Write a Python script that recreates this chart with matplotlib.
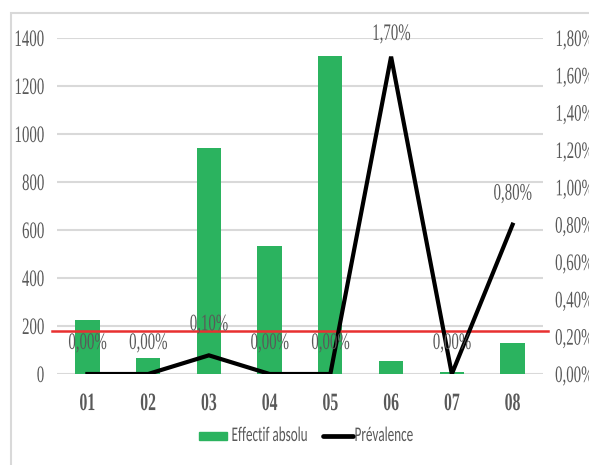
import matplotlib
matplotlib.use("Agg")
import matplotlib.pyplot as plt
from matplotlib.patches import Rectangle
from matplotlib.lines import Line2D
from matplotlib.patheffects import AbstractPathEffect
from matplotlib.transforms import Affine2D
from matplotlib.ticker import FuncFormatter

# categories and series
regions = ["01", "02", "03", "04", "05", "06", "07", "08"]
effectif = [225, 67, 942, 535, 1324, 54, 10, 128]
prevalence = [0.00, 0.00, 0.10, 0.00, 0.00, 1.70, 0.00, 0.80]
seuil = 180

green = "#2bb35f"
grey_txt = "#595959"
grid_col = "#d9d9d9"
serif = ["Liberation Serif", "DejaVu Serif"]
sans = ["Carlito", "Liberation Sans", "DejaVu Sans"]


class Squeeze(AbstractPathEffect):
    """Narrow the glyphs horizontally around a fixed side of the text."""

    def __init__(self, sx=0.63, anchor="center"):
        super().__init__()
        self.sx = sx
        self.anchor = anchor

    def draw_path(self, renderer, gc, tpath, affine, rgbFace=None):
        ext = tpath.get_extents()
        x0 = {"left": ext.x0, "center": (ext.x0 + ext.x1) / 2, "right": ext.x1}[self.anchor]
        t = Affine2D().translate(-x0, 0).scale(self.sx, 1).translate(x0, 0) + affine
        renderer.draw_path(gc, tpath, t, rgbFace)


def pct(v, pos=None):
    return ("%.2f%%" % v).replace(".", ",")


def style_labels(labels, anchor, size, weight="normal"):
    for lab in labels:
        lab.set_fontfamily(serif)
        lab.set_fontsize(size)
        lab.set_fontweight(weight)
        lab.set_color(grey_txt)
        lab.set_path_effects([Squeeze(0.63, anchor)])


fig = plt.figure(figsize=(5.89, 4.65), dpi=100)
ax = fig.add_axes([0.0968, 0.1957, 0.825, 0.7226])

x = range(len(regions))
ax.bar(x, effectif, width=0.4, color=green, zorder=2)
ax.set_ylim(0, 1400)
ax.set_xlim(-0.5, len(regions) - 0.5)
ax.set_yticks(range(0, 1401, 200))
ax.grid(axis="y", color=grid_col, linewidth=1.5, zorder=0)
ax.set_axisbelow(True)
for s in ax.spines.values():
    s.set_visible(False)
ax.tick_params(length=0)
ax.tick_params(axis="y", pad=9)
ax.tick_params(axis="x", pad=13)
ax.set_xticks(list(x))
ax.set_xticklabels(regions)
style_labels(ax.get_xticklabels(), "center", 18, "bold")
style_labels(ax.get_yticklabels(), "right", 17)

# threshold line
ax.axhline(seuil, xmin=-0.011, xmax=1.011, color="#e83030", linewidth=1.8,
           clip_on=False, zorder=4)

# prevalence on the secondary axis
ax2 = ax.twinx()
ax2.plot(list(x), prevalence, color="black", linewidth=3, zorder=5,
         solid_joinstyle="miter")
ax2.set_ylim(0, 1.8)
ax2.set_yticks([i * 0.2 for i in range(10)])
ax2.yaxis.set_major_formatter(FuncFormatter(pct))
for s in ax2.spines.values():
    s.set_visible(False)
ax2.tick_params(length=0, pad=8.5)
style_labels(ax2.get_yticklabels(), "left", 17)

# data labels above the line
for xi, v in zip(x, prevalence):
    off = 16 if v > 1.5 else 22
    t = ax2.annotate(pct(v), (xi, v), xytext=(0, off), textcoords="offset points",
                     ha="center", va="center", zorder=6)
    style_labels([t], "center", 17)

# legend, laid out by hand so the narrowed text keeps tight spacing
fig.patches.append(Rectangle((199 / 589, 1 - 439.5 / 465), 28 / 589, 8 / 465,
                             transform=fig.transFigure, color=green))
fig.lines.append(Line2D([323 / 589, 353 / 589], [1 - 435.5 / 465] * 2,
                        transform=fig.transFigure, color="black", linewidth=3.4,
                        solid_capstyle="round"))
for xpos, txt in [(231, "Effectif absolu"), (354, "Prévalence")]:
    t = fig.text(xpos / 589, 1 - 435.5 / 465, txt, ha="left", va="center",
                 family=sans, fontsize=15, color=grey_txt)
    t.set_path_effects([Squeeze(0.63, "left")])

# chart area border
fig.patches.append(Rectangle((0.0187, -0.1), 1.2, 1.072, transform=fig.transFigure,
                             fill=False, edgecolor=grid_col, linewidth=1.5))

fig.savefig("out.png", dpi=100)
